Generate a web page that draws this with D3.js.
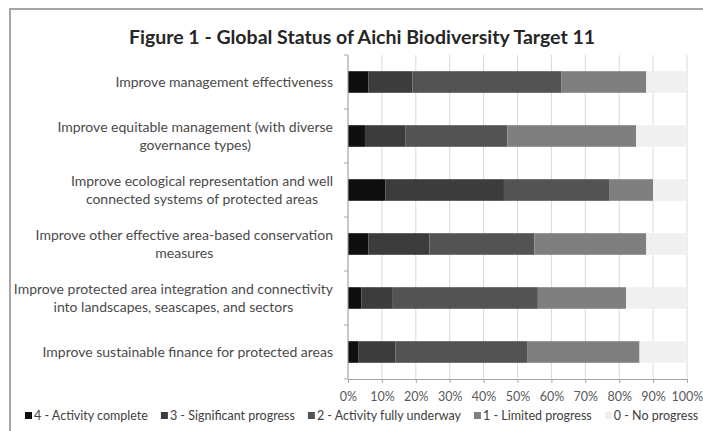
<!DOCTYPE html>
<meta charset="utf-8">
<script src="https://cdn.jsdelivr.net/npm/d3@7"></script>
<style>
  body { margin: 0; background: #fff; }
  text { font-family: Lato, "Open Sans", sans-serif; }
</style>
<div id="chart"></div>
<script>

// data (percent of parties per status)
var categories = [
  ["Improve management effectiveness"],
  ["Improve equitable management (with diverse", "governance types)"],
  ["Improve ecological representation  and well", "connected systems of protected areas"],
  ["Improve other effective area-based conservation", "measures"],
  ["Improve protected area integration and connectivity", "into landscapes, seascapes, and sectors"],
  ["Improve sustainable finance for protected areas"]
]
var complete    = [6, 5, 11, 6, 4, 3]
var significant = [13, 12, 35, 18, 9, 11]
var underway    = [44, 30, 31, 31, 43, 39]
var limited     = [25, 38, 13, 33, 26, 33]
var noProgress  = [12, 15, 10, 12, 18, 14]

var seriesNames = ["4 - Activity complete", "3 - Significant progress", "2 - Activity fully underway", "1 - Limited progress", "0 - No progress"]
var seriesColors = ["#0f0f0f", "#3c3c3c", "#535353", "#7f7f7f", "#f0f0f0"]
var xTicks = [0, 10, 20, 30, 40, 50, 60, 70, 80, 90, 100]

var W = 703, H = 431
var margin = {top: 55, left: 348, right: 16, bottom: 52}

var svg = d3.select("#chart").append("svg")
    .attr("width", W)
    .attr("height", H)

// chart frame
svg.append("rect")
    .attr("x", 10).attr("y", 9)
    .attr("width", W + 20).attr("height", H + 20)
    .attr("fill", "#fff")
    .attr("stroke", "#a6a6a6")
    .attr("stroke-width", 2)

// title
svg.append("text")
    .attr("x", 362).attr("y", 44)
    .attr("text-anchor", "middle")
    .style("font-size", "19.5px")
    .style("font-weight", "bold")
    .style("fill", "#262626")
    .text("Figure 1 - Global Status of Aichi Biodiversity Target 11")

var x = d3.scaleLinear()
    .domain([0, 100])
    .range([margin.left, W - margin.right])

var y = d3.scaleBand()
    .domain(d3.range(categories.length))
    .range([margin.top, H - margin.bottom])
    .paddingInner(0.6)
    .paddingOuter(0.3)

// build stacked rows
var rows = categories.map(function(c, i) {
  return {i: i, vals: [complete[i], significant[i], underway[i], limited[i], noProgress[i]]}
})
var stack = d3.stack().keys([0, 1, 2, 3, 4]).value(function(d, k) { return d.vals[k] })
var layers = stack(rows)

// gridlines
svg.append("g")
  .selectAll("line")
  .data(xTicks)
  .enter().append("line")
    .attr("x1", function(d) { return x(d) })
    .attr("x2", function(d) { return x(d) })
    .attr("y1", margin.top)
    .attr("y2", H - margin.bottom)
    .attr("stroke", "#d9d9d9")
    .attr("stroke-width", 1)

// bars
svg.append("g")
  .selectAll("g")
  .data(layers)
  .enter().append("g")
    .attr("fill", function(d, k) { return seriesColors[k] })
  .selectAll("rect")
  .data(function(d) { return d })
  .enter().append("rect")
    .attr("x", function(d) { return x(d[0]) })
    .attr("width", function(d) { return x(d[1]) - x(d[0]) })
    .attr("y", function(d) { return y(d.data.i) })
    .attr("height", y.bandwidth())

// bottom axis
var xAxis = svg.append("g")
    .attr("transform", "translate(0," + (H - margin.bottom) + ")")
    .call(d3.axisBottom(x).tickValues(xTicks).tickSize(4).tickFormat(function(d) { return d + "%" }))
xAxis.select(".domain").attr("stroke", "#a6a6a6")
xAxis.selectAll(".tick line").attr("stroke", "#a6a6a6")
xAxis.selectAll(".tick text")
    .attr("dy", "1.2em")
    .style("font-size", "12.5px")
    .style("font-family", "Lato, sans-serif")
    .style("fill", "#595959")

// left axis line with boundary ticks
var step = y.step()
var bounds = d3.range(categories.length + 1).map(function(i) {
  return i < categories.length ? y(i) - (step - y.bandwidth()) / 2 : y(i - 1) + y.bandwidth() + (step - y.bandwidth()) / 2
})
svg.append("line")
    .attr("x1", margin.left).attr("x2", margin.left)
    .attr("y1", margin.top).attr("y2", H - margin.bottom)
    .attr("stroke", "#a6a6a6")
svg.append("g").selectAll("line")
  .data(bounds)
  .enter().append("line")
    .attr("x1", margin.left - 4).attr("x2", margin.left)
    .attr("y1", function(d) { return d }).attr("y2", function(d) { return d })
    .attr("stroke", "#a6a6a6")

// category labels: block right aligned, lines centred within the block
var labelRight = 333, lineH = 18.5
categories.forEach(function(lines, i) {
  var g = svg.append("g")
  var cy = y(i) + y.bandwidth() / 2
  var texts = lines.map(function(l, j) {
    return g.append("text")
      .attr("y", cy + (j - (lines.length - 1) / 2) * lineH)
      .attr("dy", "0.35em")
      .attr("text-anchor", "middle")
      .style("font-size", "14px")
      .style("fill", "#4a4a4a")
      .text(l)
  })
  var maxW = d3.max(texts, function(t) { return t.node().getComputedTextLength() })
  texts.forEach(function(t) { t.attr("x", labelRight - maxW / 2) })
})

// legend
var lx = 25, ly = 416
seriesNames.forEach(function(name, k) {
  svg.append("rect")
    .attr("x", lx).attr("y", ly - 4)
    .attr("width", 7).attr("height", 7)
    .attr("fill", seriesColors[k])
  var t = svg.append("text")
    .attr("x", lx + 9).attr("y", ly)
    .attr("dy", "0.35em")
    .style("font-size", "12.5px")
    .style("fill", "#404040")
    .text(name)
  lx += 9 + t.node().getComputedTextLength() + 13
})

</script>
